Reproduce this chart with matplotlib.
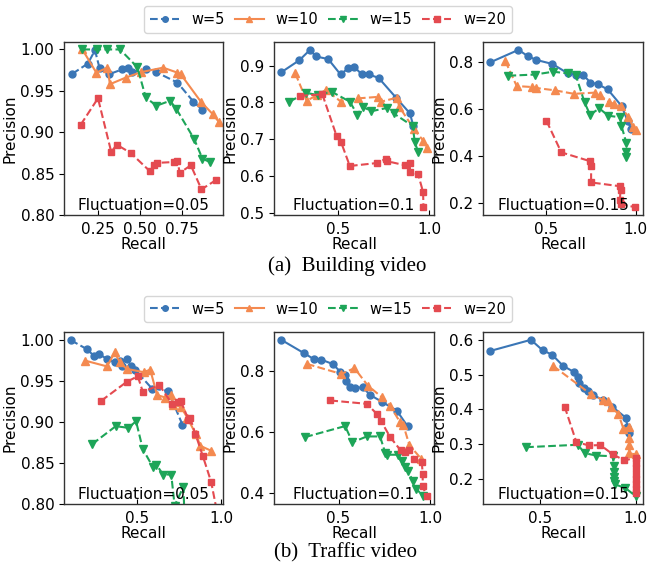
import matplotlib
matplotlib.use('Agg')
import matplotlib.pyplot as plt
from matplotlib.lines import Line2D

# ---------------- data ----------------
labels = ['w=5', 'w=10', 'w=15', 'w=20']
captions = ['(a)  Building video', '(b)  Traffic video']
fluct_texts = ['Fluctuation=0.05', 'Fluctuation=0.1', 'Fluctuation=0.15']

# Building, fluctuation 0.05
b1_w5_r = [0.099, 0.192, 0.234, 0.262, 0.317, 0.397, 0.431, 0.456, 0.536, 0.599, 0.724, 0.819, 0.873]
b1_w5_p = [0.9705, 0.983, 0.999, 0.977, 0.970, 0.976, 0.977, 0.9725, 0.976, 0.9725, 0.960, 0.937, 0.927]
b1_w10_r = [0.159, 0.242, 0.308, 0.323, 0.417, 0.506, 0.639, 0.724, 0.744, 0.863, 0.933, 0.972]
b1_w10_p = [1.000, 0.972, 0.978, 0.958, 0.966, 0.9725, 0.978, 0.972, 0.970, 0.937, 0.922, 0.912]
b1_w15_r = [0.159, 0.248, 0.308, 0.383, 0.486, 0.536, 0.599, 0.681, 0.718, 0.823, 0.873, 0.917]
b1_w15_p = [1.000, 1.000, 1.000, 1.000, 0.9785, 0.942, 0.932, 0.938, 0.928, 0.892, 0.868, 0.864]
b1_w20_r = [0.149, 0.252, 0.331, 0.363, 0.446, 0.560, 0.585, 0.605, 0.704, 0.724, 0.738, 0.804, 0.867, 0.952]
b1_w20_p = [0.909, 0.941, 0.876, 0.885, 0.875, 0.853, 0.860, 0.863, 0.864, 0.865, 0.851, 0.860, 0.831, 0.842]

# Building, fluctuation 0.1
b2_w5_r = [0.187, 0.287, 0.345, 0.378, 0.445, 0.513, 0.555, 0.587, 0.631, 0.667, 0.722, 0.818, 0.895, 0.913]
b2_w5_p = [0.882, 0.915, 0.943, 0.925, 0.918, 0.876, 0.893, 0.897, 0.876, 0.876, 0.867, 0.813, 0.770, 0.736]
b2_w10_r = [0.264, 0.327, 0.382, 0.433, 0.515, 0.609, 0.718, 0.736, 0.824, 0.836, 0.918, 0.969, 0.987]
b2_w10_p = [0.879, 0.804, 0.820, 0.834, 0.802, 0.811, 0.815, 0.802, 0.813, 0.788, 0.727, 0.695, 0.675]
b2_w15_r = [0.231, 0.324, 0.387, 0.464, 0.564, 0.605, 0.636, 0.682, 0.769, 0.805, 0.909, 0.922, 0.940]
b2_w15_p = [0.802, 0.826, 0.820, 0.829, 0.802, 0.767, 0.788, 0.776, 0.785, 0.770, 0.736, 0.691, 0.665]
b2_w20_r = [0.291, 0.413, 0.491, 0.515, 0.564, 0.713, 0.764, 0.769, 0.867, 0.893, 0.896, 0.940, 0.967, 0.969]
b2_w20_p = [0.818, 0.822, 0.709, 0.693, 0.627, 0.635, 0.647, 0.640, 0.629, 0.635, 0.611, 0.604, 0.556, 0.515]

# Building, fluctuation 0.15
b3_w5_r = [0.185, 0.343, 0.398, 0.444, 0.533, 0.620, 0.667, 0.704, 0.746, 0.787, 0.843, 0.922, 0.954, 0.976]
b3_w5_p = [0.797, 0.850, 0.822, 0.807, 0.790, 0.750, 0.745, 0.745, 0.711, 0.704, 0.682, 0.610, 0.548, 0.512]
b3_w10_r = [0.269, 0.333, 0.417, 0.441, 0.546, 0.654, 0.769, 0.800, 0.852, 0.880, 0.917, 0.959, 0.985, 1.000]
b3_w10_p = [0.803, 0.696, 0.692, 0.688, 0.678, 0.663, 0.668, 0.656, 0.627, 0.620, 0.610, 0.563, 0.524, 0.509]
b3_w15_r = [0.287, 0.435, 0.537, 0.620, 0.663, 0.713, 0.744, 0.796, 0.846, 0.913, 0.920, 0.948, 0.944, 0.944]
b3_w15_p = [0.740, 0.745, 0.757, 0.750, 0.745, 0.627, 0.574, 0.601, 0.570, 0.563, 0.527, 0.452, 0.414, 0.394]
b3_w20_r = [0.500, 0.583, 0.746, 0.750, 0.750, 0.911, 0.915, 0.911, 0.917, 0.996]
b3_w20_p = [0.548, 0.414, 0.376, 0.354, 0.286, 0.270, 0.253, 0.213, 0.193, 0.181]

# Traffic, fluctuation 0.05
t1_w5_r = [0.110, 0.206, 0.246, 0.276, 0.326, 0.370, 0.400, 0.410, 0.440, 0.466, 0.490, 0.590, 0.686, 0.770]
t1_w5_p = [1.000, 0.989, 0.981, 0.983, 0.977, 0.973, 0.975, 0.969, 0.977, 0.968, 0.964, 0.941, 0.938, 0.897]
t1_w10_r = [0.196, 0.324, 0.370, 0.400, 0.440, 0.540, 0.580, 0.620, 0.670, 0.704, 0.716, 0.760, 0.800, 0.850, 0.876, 0.940]
t1_w10_p = [0.975, 0.968, 0.985, 0.973, 0.965, 0.961, 0.964, 0.933, 0.930, 0.933, 0.921, 0.919, 0.905, 0.885, 0.871, 0.865]
t1_w15_r = [0.236, 0.376, 0.450, 0.496, 0.536, 0.596, 0.616, 0.656, 0.704, 0.724, 0.776, 0.785, 0.830]
t1_w15_p = [0.873, 0.895, 0.893, 0.901, 0.867, 0.845, 0.848, 0.836, 0.836, 0.798, 0.821, 0.770, 0.740]
t1_w20_r = [0.290, 0.440, 0.506, 0.536, 0.634, 0.710, 0.746, 0.760, 0.806, 0.816, 0.846, 0.890, 0.940, 0.975]
t1_w20_p = [0.926, 0.949, 0.956, 0.937, 0.945, 0.922, 0.925, 0.926, 0.903, 0.905, 0.886, 0.859, 0.827, 0.790]

# Traffic, fluctuation 0.1
t2_w5_r = [0.187, 0.309, 0.364, 0.405, 0.467, 0.509, 0.536, 0.542, 0.564, 0.591, 0.631, 0.673, 0.736, 0.818, 0.878]
t2_w5_p = [0.903, 0.860, 0.840, 0.838, 0.824, 0.799, 0.786, 0.769, 0.748, 0.744, 0.748, 0.722, 0.700, 0.671, 0.619]
t2_w10_r = [0.327, 0.515, 0.587, 0.660, 0.736, 0.782, 0.836, 0.855, 0.887, 0.951]
t2_w10_p = [0.824, 0.791, 0.810, 0.753, 0.715, 0.687, 0.633, 0.622, 0.558, 0.513]
t2_w15_r = [0.318, 0.536, 0.576, 0.655, 0.727, 0.755, 0.764, 0.824, 0.845, 0.864, 0.878, 0.909, 0.922, 0.964]
t2_w15_p = [0.584, 0.620, 0.567, 0.586, 0.586, 0.532, 0.526, 0.526, 0.504, 0.485, 0.471, 0.439, 0.414, 0.392]
t2_w20_r = [0.455, 0.655, 0.709, 0.731, 0.782, 0.840, 0.864, 0.885, 0.913, 0.955, 0.960, 0.960, 0.982]
t2_w20_p = [0.704, 0.693, 0.660, 0.638, 0.584, 0.540, 0.534, 0.540, 0.513, 0.502, 0.463, 0.422, 0.390]

# Traffic, fluctuation 0.15
t3_w5_r = [0.241, 0.453, 0.514, 0.564, 0.621, 0.676, 0.698, 0.702, 0.728, 0.750, 0.779, 0.828, 0.876, 0.948, 0.957, 0.966]
t3_w5_p = [0.568, 0.600, 0.570, 0.557, 0.525, 0.508, 0.493, 0.477, 0.462, 0.452, 0.441, 0.427, 0.408, 0.376, 0.350, 0.331]
t3_w10_r = [0.569, 0.767, 0.828, 0.853, 0.871, 0.910, 0.936, 0.966, 0.966, 0.966, 0.966, 1.000]
t3_w10_p = [0.525, 0.443, 0.427, 0.424, 0.408, 0.386, 0.344, 0.348, 0.317, 0.298, 0.274, 0.270]
t3_w15_r = [0.428, 0.698, 0.733, 0.793, 0.879, 0.888, 0.888, 0.888, 0.888, 0.890, 0.945, 1.000]
t3_w15_p = [0.291, 0.298, 0.274, 0.267, 0.265, 0.236, 0.220, 0.205, 0.195, 0.184, 0.174, 0.150]
t3_w20_r = [0.629, 0.690, 0.755, 0.816, 0.879, 0.940, 1.000, 1.000, 1.000, 1.000, 1.000, 1.000, 1.000, 1.000]
t3_w20_p = [0.408, 0.306, 0.296, 0.297, 0.271, 0.253, 0.260, 0.245, 0.230, 0.215, 0.200, 0.185, 0.170, 0.160]

panels = [
    [(b1_w5_r, b1_w5_p), (b1_w10_r, b1_w10_p), (b1_w15_r, b1_w15_p), (b1_w20_r, b1_w20_p)],
    [(b2_w5_r, b2_w5_p), (b2_w10_r, b2_w10_p), (b2_w15_r, b2_w15_p), (b2_w20_r, b2_w20_p)],
    [(b3_w5_r, b3_w5_p), (b3_w10_r, b3_w10_p), (b3_w15_r, b3_w15_p), (b3_w20_r, b3_w20_p)],
    [(t1_w5_r, t1_w5_p), (t1_w10_r, t1_w10_p), (t1_w15_r, t1_w15_p), (t1_w20_r, t1_w20_p)],
    [(t2_w5_r, t2_w5_p), (t2_w10_r, t2_w10_p), (t2_w15_r, t2_w15_p), (t2_w20_r, t2_w20_p)],
    [(t3_w5_r, t3_w5_p), (t3_w10_r, t3_w10_p), (t3_w15_r, t3_w15_p), (t3_w20_r, t3_w20_p)],
]

# ---------------- style ----------------
colors = ['#3a76b6', '#f48a50', '#1da558', '#e44a50']
markers = ['o', '^', 'v', 's']
msizes = [5, 6, 6, 5]
solid_series = [1, 0, 0, 1, 0, 0]   # which series is drawn solid in each panel
xlims = [(0.05, 0.995), None, None, (0.07, 1.01), None, None]
ylims = [(0.80, 1.009), None, None, (0.80, 1.010), None, None]

W, H = 647, 570
fig = plt.figure(figsize=(W / 100, H / 100), dpi=100)
cols_px = [(64, 223), (274, 434), (483, 643)]
rows_px = [(42, 215), (332, 504)]

axes = []
for r, (t, b) in enumerate(rows_px):
    for c, (l, rr) in enumerate(cols_px):
        ax = fig.add_axes([l / W, 1 - b / H, (rr - l) / W, (b - t) / H])
        axes.append(ax)

for i, ax in enumerate(axes):
    for s, (xr, yp) in enumerate(panels[i]):
        ls = '-' if s == solid_series[i] else '--'
        ax.plot(xr, yp, linestyle=ls, color=colors[s], marker=markers[s],
                markersize=msizes[s], linewidth=1.5, label=labels[s])
    if xlims[i] is not None:
        ax.set_xlim(*xlims[i])
    if ylims[i] is not None:
        ax.set_ylim(*ylims[i])
    ax.set_xlabel('Recall', fontsize=11, labelpad=0)
    ax.set_ylabel('Precision', fontsize=11, labelpad=2)
    ax.tick_params(axis='x', direction='in', labelsize=11, pad=5)
    ax.tick_params(axis='y', direction='out', labelsize=11)
    for sp in ax.spines.values():
        sp.set_color('#333333')
        sp.set_linewidth(1.0)
    ax.text(0.5, 0.01, fluct_texts[i % 3], transform=ax.transAxes,
            ha='center', va='bottom', fontsize=11, zorder=5)

handles = [Line2D([], [], linestyle='-' if s == solid_series[0] else '--',
                  color=colors[s], marker=markers[s], markersize=msizes[s] - 1,
                  linewidth=1.5) for s in range(4)]
for yc in (19.5, 309):
    fig.legend(handles, labels, loc='center', bbox_to_anchor=(328 / W, 1 - yc / H),
               ncol=4, fontsize=10.5, columnspacing=0.7, handlelength=2.0,
               handletextpad=0.8, frameon=True, borderpad=0.4)

fig.text(347 / W, 1 - 266 / H, captions[0], ha='center', va='center',
         family='Liberation Serif', fontsize=15)
fig.text(345 / W, 1 - 553 / H, captions[1], ha='center', va='center',
         family='Liberation Serif', fontsize=15)

fig.savefig('out.png', dpi=100)
